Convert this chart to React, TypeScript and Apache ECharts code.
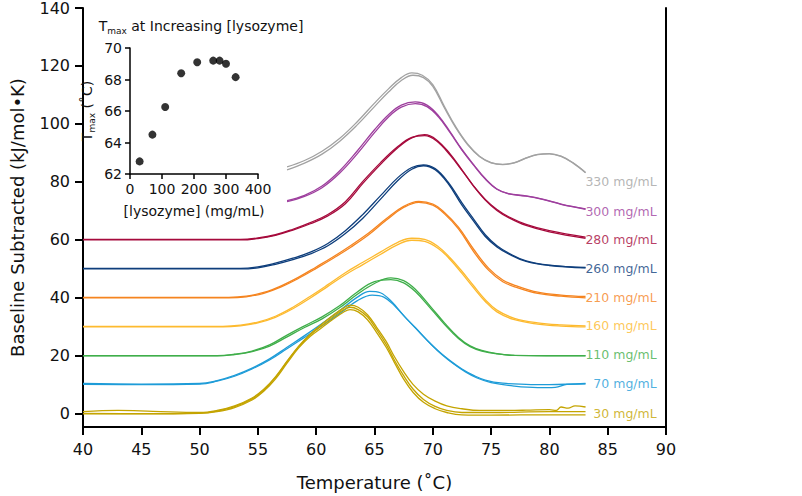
import React, { useEffect, useRef } from 'react';
import * as echarts from 'echarts';

const FONT = 'DejaVu Sans';

// ---- main DSC curves: [temperature °C, baseline-subtracted Cp kJ/mol·K] ----
const c330a = [[57.5,84.2],[59,86.5],[60.5,89.6],[62,94],[63.5,99.6],[65,106],[66.2,111],[67.3,115],[68.3,116.8],[69.2,116],[70,113],[71,105.5],[72,98.5],[73,92.8],[74,88.8],[75,86.6],[76,86],[77,86.6],[78,88.2],[79,89.4],[80,89.7],[81,88.8],[82,86.6],[83.1,83.2]];
const c330b = [[57.5,85.2],[59,87.4],[60.5,90.6],[62,95],[63.5,100.7],[65,107.2],[66.2,112.1],[67.3,116],[68.2,117.6],[69.1,116.8],[70,113.6],[71,106],[72,98.8],[73,93],[74,88.9],[75,86.7],[76,86.1],[77,86.7],[78,88.3],[79,89.5],[80,89.8],[81,88.9],[82,86.7],[83.1,83.3]];
const c300a = [[57.5,73.6],[59,75.4],[60.5,78.6],[62,83.8],[63.5,90.6],[65,98],[66.2,103.2],[67.3,106.5],[68.5,107.6],[69.5,106.5],[70.5,102.8],[71.5,97.2],[72.5,91.2],[73.5,86],[74.5,81.2],[75.5,77.6],[76.5,76],[78,75.2],[79.5,74],[81,72.4],[83.1,70.7]];
const c300b = [[57.5,73.2],[59,75],[60.5,78],[62,83],[63.5,89.6],[65,97],[66.2,102.4],[67.3,105.8],[68.5,107],[69.5,106],[70.5,102.4],[71.5,96.9],[72.5,91],[73.5,85.8],[74.5,81],[75.5,77.5],[76.5,75.9],[78,75.1],[79.5,73.9],[81,72.3],[83.1,70.6]];
const c280a = [[40,60],[53.5,60],[55,60.5],[56.5,61.6],[58,63.4],[59.5,65.6],[61,68.3],[62.5,72.5],[64,79.5],[65.5,86],[67,91.8],[68.2,95.2],[69.3,96.3],[70.3,94.6],[71.5,89.6],[72.5,84.2],[73.5,78.6],[74.5,73.8],[75.5,70.2],[76.5,67.7],[78,65],[80,62.8],[83.1,60.6]];
const c280b = [[40,60.2],[53.5,60.2],[55,60.7],[56.5,61.8],[58,63.7],[59.5,66],[61,68.8],[62.5,73.2],[64,80.2],[65.5,86.6],[67,92.2],[68.2,95.4],[69.3,96],[70.3,94.2],[71.5,89.2],[72.5,84],[73.5,78.6],[74.5,74],[75.5,70.5],[76.5,68],[78,65.4],[80,63.2],[83.1,61]];
const c260a = [[40,50],[53.5,50],[55,50.4],[56.5,51.6],[58,53.2],[59.5,55.2],[61,58],[62.5,62.2],[64,67.5],[65.5,74],[67,80.5],[68.2,84.4],[69.2,85.6],[70.2,84.2],[71.3,79.5],[72.5,72],[73.5,66.5],[74.5,61.2],[75.5,57.6],[76.5,55.2],[78,52.6],[80,51.2],[83.1,50.4]];
const c260b = [[40,50.2],[53.5,50.2],[55,50.7],[56.5,52],[58,53.7],[59.5,55.8],[61,58.8],[62.5,63.2],[64,68.8],[65.5,75.2],[67,81.5],[68.2,85],[69.2,85.9],[70.2,84.6],[71.3,80],[72.5,72.8],[73.5,67.2],[74.5,61.8],[75.5,58],[76.5,55.5],[78,52.8],[80,51.3],[83.1,50.5]];
const c210a = [[40,40],[52.5,40],[54,40.4],[55.5,41.6],[57,43.8],[58.5,46.8],[60,50.2],[61.5,53.8],[63,57.6],[64.5,61.8],[66,66.8],[67.5,71.2],[68.8,73],[70,72],[71,69],[72.2,63.8],[73.5,56],[74.8,49.5],[76,45.6],[77.3,43.5],[79,41.6],[81,40.6],[83.1,40]];
const c210b = [[40,40.2],[52.5,40.2],[54,40.6],[55.5,41.9],[57,44.2],[58.5,47.2],[60,50.7],[61.5,54.3],[63,58.2],[64.5,62.4],[66,67.3],[67.5,71.6],[68.8,73.3],[70,72.4],[71,69.5],[72.2,64.4],[73.5,56.8],[74.8,50.2],[76,46.2],[77.3,44],[79,42],[81,41],[83.1,40.5]];
const c160a = [[40,30],[52,30],[53.5,30.4],[55,31.4],[56.5,33.3],[58,36.3],[59.5,40],[61,44],[62.5,48],[64,51.5],[65.5,55],[67,58.4],[68.2,59.9],[69.3,59.5],[70.5,57],[71.5,53.2],[72.5,48.5],[73.5,43.5],[74.5,38.8],[75.5,35.2],[77,32.5],[79,31],[81,30.3],[83.1,30]];
const c160b = [[40,30.2],[52,30.2],[53.5,30.6],[55,31.7],[56.5,33.7],[58,36.8],[59.5,40.6],[61,44.6],[62.5,48.7],[64,52.3],[65.5,55.8],[67,59.2],[68.2,60.6],[69.3,60.2],[70.5,57.6],[71.5,53.8],[72.5,49.2],[73.5,44.2],[74.5,39.4],[75.5,35.8],[77,33],[79,31.4],[81,30.7],[83.1,30.4]];
const c110a = [[40,20],[51.5,20],[53,20.5],[54.5,21.5],[56,23.4],[57.5,26.6],[59,29.8],[60.5,32.8],[62,36.6],[63.5,41.2],[65,45],[66.4,46.9],[67.5,46],[68.5,43],[69.9,36.6],[71,31.4],[72.2,26.4],[73.2,23.5],[74.2,21.9],[75.5,20.8],[77,20.2],[83.1,20]];
const c110b = [[40,20.1],[51.5,20.1],[53,20.6],[54.5,21.7],[56,23.8],[57.5,27.2],[59,30.4],[60.5,33.5],[62,37.3],[63.5,42],[65,45.6],[66.4,46.3],[67.5,45.2],[68.5,42.2],[69.9,36],[71,30.9],[72.2,26],[73.2,23.2],[74.2,21.7],[75.5,20.7],[77,20.2],[83.1,20.1]];
const c70a = [[40,10.5],[45,10.3],[50,10.5],[51.5,11.5],[53,13.3],[54.5,15.8],[56,19],[57.5,23],[59,27],[60.5,31.2],[62,35.6],[63.5,40.2],[64.6,42.3],[65.5,41.8],[66.5,38.6],[67.5,33.9],[68.5,29.8],[69.5,25.5],[70.5,21.6],[71.5,18.3],[72.5,15.5],[73.5,13.3],[74.5,11.7],[76,10.6],[78,10.2],[80,10.1],[83.1,10.5]];
const c70b = [[40,10.2],[45,10.1],[50,10.3],[51.5,11.3],[53,13],[54.5,15.5],[56,18.6],[57.5,22.5],[59,26.4],[60.5,30.4],[62,34.6],[63.5,39],[64.8,41],[65.8,40.3],[66.8,37],[67.8,32.6],[68.8,28.4],[69.8,24.2],[70.8,20.4],[71.8,17.2],[72.8,14.5],[73.8,12.4],[75,10.8],[77,9.6],[79,9.1],[80.5,9.2],[81.5,10.2],[83.1,10.4]];
const c30a = [[40,0],[45,0],[50,0.2],[51.5,0.8],[53,2.2],[54.5,4.8],[55.5,7.8],[56.5,12],[57.5,17.5],[58.5,22.8],[59.5,26.8],[60.5,29.8],[61.5,32.8],[62.3,35],[62.9,36],[63.6,35.2],[64.4,32.5],[65.2,28],[66,23],[66.7,17.8],[67.5,12],[68.3,7.5],[69.2,4],[70.2,1.8],[71.2,0.5],[72.5,-0.3],[75,-0.4],[80,-0.3],[83.1,-0.3]];
const c30b = [[40,0.8],[43,1.2],[46,0.9],[50,0.5],[51.5,1.2],[53,2.8],[54.5,5.5],[55.5,8.5],[56.5,12.8],[57.5,18.2],[58.5,23.4],[59.5,27.6],[60.5,31],[61.5,34.2],[62.3,36.4],[62.9,37.5],[63.6,36.8],[64.4,34.2],[65.2,29.8],[66,25],[66.7,19.8],[67.5,14.6],[68.3,10.2],[69.2,6.8],[70.2,4.4],[71.2,2.8],[72.5,1.8],[74,1.2],[76,1.2],[78,1.3],[80,1.5],[80.6,1.2],[81,2.4],[81.6,2],[82.2,2.8],[83.1,2.4]];
const c30c = [[40,0.2],[45,0.1],[50,0.3],[51.5,1],[53,2.5],[54.5,5.2],[55.5,8.2],[56.5,12.5],[57.5,18],[58.5,23.2],[59.5,27.3],[60.5,30.5],[61.5,33.6],[62.3,35.8],[62.9,36.8],[63.6,36],[64.4,33.5],[65.2,29],[66,24],[66.7,18.6],[67.5,13.2],[68.3,8.6],[69.2,5],[70.2,2.6],[71.2,1.2],[72.5,0.5],[75,0.5],[80,0.8],[83.1,0.8]];

// ---- labels at right ----
const labelNames = ['330 mg/mL','300 mg/mL','280 mg/mL','260 mg/mL','210 mg/mL','160 mg/mL','110 mg/mL','70 mg/mL','30 mg/mL'];
const labelY = [80.1, 69.9, 60.3, 50, 40, 30.5, 20.5, 10.6, 0];
const labelX = 89.2;
const colors = ['#A2A2A2','#9E3F9E','#A60A3C','#0E3E7C','#F5841F','#FDBA2F','#3FAE4A','#1E9CD8','#C4A400'];
const curveGroups = [
  [c330a, c330b], [c300a, c300b], [c280a, c280b], [c260a, c260b], [c210a, c210b],
  [c160a, c160b], [c110a, c110b], [c70a, c70b], [c30a, c30b, c30c],
];

// ---- inset: Tmax vs concentration ----
const concs = [30, 70, 110, 160, 210, 260, 280, 300, 330];
const tmax = [62.8, 64.5, 66.25, 68.4, 69.1, 69.2, 69.2, 69.0, 68.15];

const yTicks = [0, 20, 40, 60, 80, 100, 120, 140];

const richSub = {
  a: { fontSize: 14, fontFamily: FONT, fontWeight: 'normal', color: '#111', lineHeight: 18 },
  b: { fontSize: 9, fontFamily: FONT, fontWeight: 'normal', color: '#111', lineHeight: 10, padding: [10, 0, 0, 0] },
};

export default function App() {
  const ref = useRef<HTMLDivElement>(null);
  useEffect(() => {
    const chart = echarts.init(ref.current!, null, { renderer: 'svg' });
    const series: any[] = [];
    curveGroups.forEach((group, gi) => {
      group.forEach((d) => {
        series.push({
          type: 'line', xAxisIndex: 0, yAxisIndex: 0, data: d, smooth: 0.4,
          showSymbol: false, silent: true,
          lineStyle: { width: 1.3, color: colors[gi] },
        });
      });
    });
    series.push({
      type: 'scatter', xAxisIndex: 0, yAxisIndex: 0, symbolSize: 0, silent: true,
      data: labelNames.map((n, i) => ({
        name: n, value: [labelX, labelY[i]],
        label: { color: colors[i] },
      })),
      label: { show: true, position: 'left', distance: 0, formatter: '{b}', fontSize: 12.5, fontFamily: FONT },
    });
    series.push({
      type: 'scatter', xAxisIndex: 1, yAxisIndex: 2, symbolSize: 8,
      itemStyle: { color: '#000' },
      data: concs.map((c, i) => [c, tmax[i]]),
    });

    chart.setOption({
      animation: false,
      backgroundColor: '#fff',
      textStyle: { fontFamily: FONT },
      title: {
        text: '{a|T}{b|max}{a| at Increasing [lysozyme]}',
        left: 196, top: 12, textAlign: 'center',
        textStyle: { fontWeight: 'normal', rich: richSub },
      },
      grid: [
        { left: 78, right: 136, top: 8, bottom: 66 },
        { left: 130, top: 48, width: 128, height: 126 },
      ],
      xAxis: [
        {
          type: 'value', gridIndex: 0, min: 40, max: 90, interval: 5,
          axisLine: { onZero: false, lineStyle: { color: '#000', width: 2 } },
          axisTick: { length: 8, lineStyle: { color: '#000', width: 2 } },
          axisLabel: { fontSize: 16, color: '#111', margin: 14, fontFamily: FONT },
          splitLine: { show: false },
          name: 'Temperature (˚C)', nameLocation: 'middle', nameGap: 46,
          nameTextStyle: { fontSize: 18, color: '#111', fontFamily: FONT },
        },
        {
          type: 'value', gridIndex: 1, min: 0, max: 400, interval: 100,
          axisLine: { onZero: false, lineStyle: { color: '#000', width: 1.5 } },
          axisTick: { length: 5, lineStyle: { color: '#000', width: 1.5 } },
          axisLabel: { fontSize: 14, color: '#111', margin: 8, fontFamily: FONT },
          splitLine: { show: false },
          name: '[lysozyme] (mg/mL)', nameLocation: 'middle', nameGap: 30,
          nameTextStyle: { fontSize: 14, color: '#111', fontFamily: FONT },
        },
      ],
      yAxis: [
        {
          type: 'value', gridIndex: 0, min: -4.5, max: 140,
          axisLine: { show: true, onZero: false, lineStyle: { color: '#000', width: 2 } },
          axisTick: { show: true, length: 8, customValues: yTicks, lineStyle: { color: '#000', width: 2 } },
          axisLabel: { fontSize: 16, color: '#111', margin: 13, customValues: yTicks, fontFamily: FONT },
          splitLine: { show: false },
          name: 'Baseline Subtracted (kJ/mol•K)', nameLocation: 'middle', nameGap: 57,
          nameTextStyle: { fontSize: 18, color: '#111', fontFamily: FONT },
        },
        {
          type: 'value', gridIndex: 0, min: -4.5, max: 140, position: 'right',
          axisLine: { show: true, onZero: false, lineStyle: { color: '#000', width: 2 } },
          axisTick: { show: false }, axisLabel: { show: false }, splitLine: { show: false },
        },
        {
          type: 'value', gridIndex: 1, min: 62, max: 70, interval: 2,
          axisLine: { show: true, onZero: false, lineStyle: { color: '#000', width: 1.5 } },
          axisTick: { show: true, length: 5, lineStyle: { color: '#000', width: 1.5 } },
          axisLabel: { fontSize: 14, color: '#111', margin: 8, fontFamily: FONT },
          splitLine: { show: false },
          name: '{a|T}{b|max}{a| (˚C)}', nameLocation: 'middle', nameGap: 34,
          nameTextStyle: { rich: richSub },
        },
      ],
      series,
    });
    return () => chart.dispose();
  }, []);
  return <div ref={ref} style={{ position: 'fixed', left: 0, top: 0, width: 802, height: 496 }} />;
}
